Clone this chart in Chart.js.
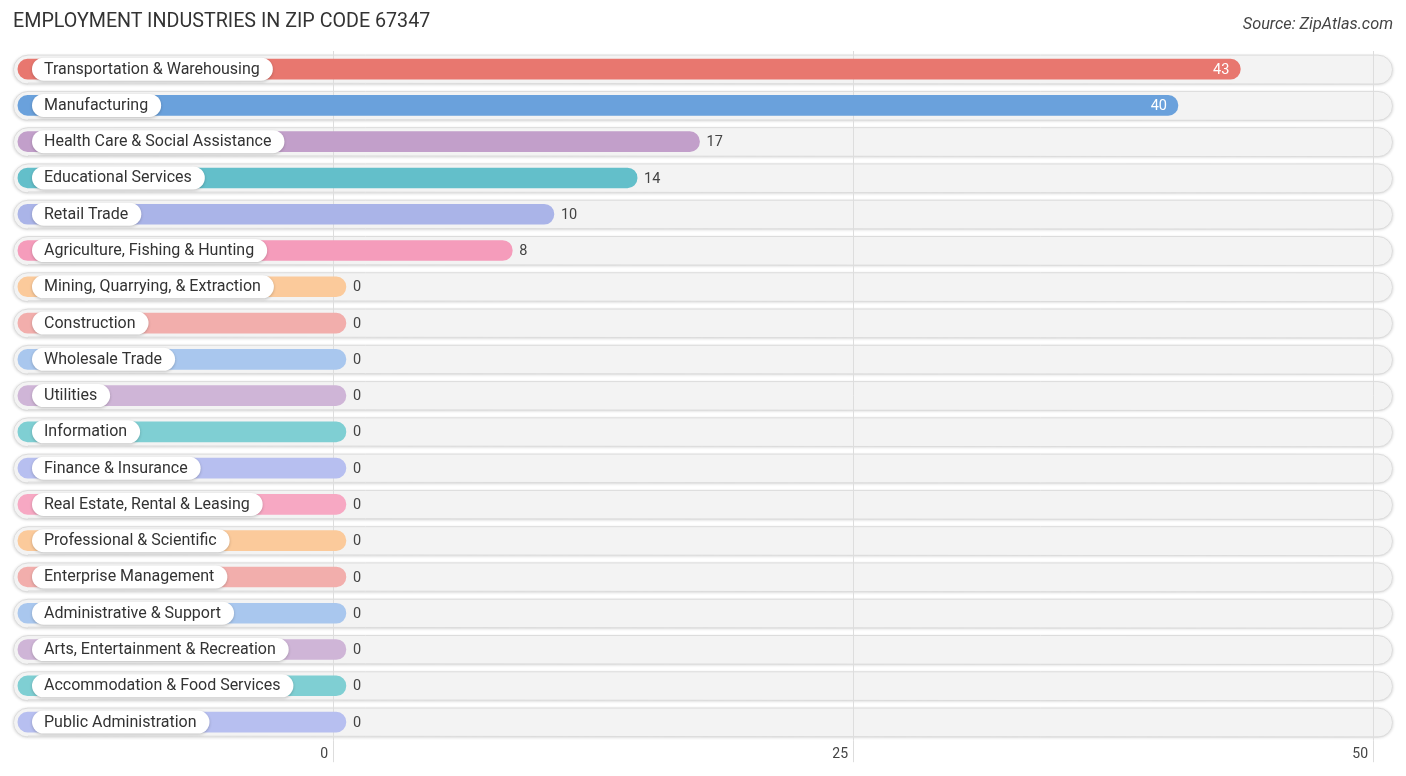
<!DOCTYPE html>
<html>
<head>
<meta charset="utf-8">
<script src="https://cdn.jsdelivr.net/npm/chart.js@4/dist/chart.umd.min.js"></script>
<style>
  body { margin: 0; background: #fff; font-family: Roboto, "Open Sans", sans-serif; }
  #wrap { position: relative; width: 1406px; height: 776px; }
  #title { position: absolute; left: 13px; top: 9px; font-size: 19.7px; color: #333; }
  #source { position: absolute; right: 13px; top: 14px; font-size: 16.3px; color: #444; font-style: italic; }
</style>
</head>
<body>
<div id="wrap">
  <div id="title">EMPLOYMENT INDUSTRIES IN ZIP CODE 67347</div>
  <div id="source">Source: ZipAtlas.com</div>
  <canvas id="barChart" width="1406" height="776"></canvas>
</div>
<script>
// DATA
let categories = ["Transportation & Warehousing", "Manufacturing", "Health Care & Social Assistance",
  "Educational Services", "Retail Trade", "Agriculture, Fishing & Hunting",
  "Mining, Quarrying, & Extraction", "Construction", "Wholesale Trade", "Utilities",
  "Information", "Finance & Insurance", "Real Estate, Rental & Leasing",
  "Professional & Scientific", "Enterprise Management", "Administrative & Support",
  "Arts, Entertainment & Recreation", "Accommodation & Food Services", "Public Administration"];
let values = [43, 40, 17, 14, 10, 8, 0, 0, 0, 0, 0, 0, 0, 0, 0, 0, 0, 0, 0];
let tickValues = [0, 25, 50];
let barColors = ["#e8776f", "#6aa1dc", "#c29fca", "#63bfca", "#aab4e8", "#f59cbb",
  "#fbca9b", "#f2aeac", "#a9c7ee", "#cfb5d7", "#7fcfd3", "#b7bff0", "#f7a8c3",
  "#fbca9b", "#f2aeac", "#a9c7ee", "#cfb5d7", "#7fcfd3", "#b7bff0"];

// bars start left of zero (under the label) and have a rounded cap past the value
let barStart = -15.15;
let capExtra = 0.62;

function roundRect(ctx, x, y, w, h, r) {
  ctx.beginPath();
  ctx.moveTo(x + r, y);
  ctx.lineTo(x + w - r, y);
  ctx.arc(x + w - r, y + r, r, -Math.PI / 2, Math.PI / 2);
  ctx.lineTo(x + r, y + h);
  ctx.arc(x + r, y + r, r, Math.PI / 2, Math.PI * 1.5);
  ctx.closePath();
}

// grey row pills behind everything (grid lines sit on top of them)
let rowBackground = {
  id: 'rowBackground',
  beforeDraw(chart) {
    let ctx = chart.ctx, area = chart.chartArea, y = chart.scales.y, x = chart.scales.x;
    ctx.save();
    categories.forEach((c, i) => {
      let cy = y.getPixelForValue(i);
      let h = 29;
      ctx.save();
      ctx.shadowColor = 'rgba(0,0,0,0.18)';
      ctx.shadowBlur = 3;
      ctx.shadowOffsetY = 1;
      roundRect(ctx, area.left, cy - h / 2, area.right - area.left, h, h / 2);
      ctx.fillStyle = '#f3f3f3';
      ctx.fill();
      ctx.restore();
      roundRect(ctx, area.left + 0.5, cy - h / 2 + 0.5, area.right - area.left - 1, h - 1, h / 2);
      ctx.strokeStyle = '#dcdcdc';
      ctx.lineWidth = 1;
      ctx.stroke();
    });
    // grid lines run a little past the plot, down beside the tick labels
    ctx.strokeStyle = '#dddddd';
    tickValues.forEach(t => {
      let gx = Math.round(x.getPixelForValue(t)) + 0.5;
      ctx.beginPath();
      ctx.moveTo(gx, area.bottom);
      ctx.lineTo(gx, area.bottom + 22);
      ctx.stroke();
    });
    ctx.restore();
  }
};

// category label pills and value labels
let barLabels = {
  id: 'barLabels',
  afterDatasetsDraw(chart) {
    let ctx = chart.ctx, x = chart.scales.x, y = chart.scales.y;
    let maxVal = Math.max(...values);
    ctx.save();
    ctx.font = '16px Roboto, sans-serif';
    ctx.textBaseline = 'middle';
    categories.forEach((c, i) => {
      let cy = y.getPixelForValue(i);
      let tw = ctx.measureText(c).width;
      let px = 32, ph = 23, pw = tw + 25;
      ctx.save();
      ctx.shadowColor = 'rgba(0,0,0,0.22)';
      ctx.shadowBlur = 3;
      ctx.shadowOffsetY = 1;
      roundRect(ctx, px, cy - ph / 2, pw, ph, ph / 2);
      ctx.fillStyle = '#ffffff';
      ctx.fill();
      ctx.restore();
      ctx.fillStyle = '#333';
      ctx.textAlign = 'left';
      ctx.fillText(c, px + 12, cy + 0.5);
    });
    ctx.font = '14.5px Roboto, sans-serif';
    values.forEach((v, i) => {
      let cy = y.getPixelForValue(i);
      let end = x.getPixelForValue(v + capExtra);
      if (v > maxVal * 0.6) {
        ctx.fillStyle = '#ffffff';
        ctx.textAlign = 'right';
        ctx.fillText(String(v), end - 11, cy + 1);
      } else {
        ctx.fillStyle = '#444';
        ctx.textAlign = 'left';
        ctx.fillText(String(v), end + 7, cy + 1);
      }
    });
    ctx.restore();
  }
};

let barChartCtx = document.getElementById('barChart').getContext('2d');
let barChart = new Chart(barChartCtx, {
  type: 'bar',
  data: {
    labels: categories,
    datasets: [{
      label: 'Employment',
      data: values.map(v => [barStart, v + capExtra]),
      backgroundColor: barColors,
      borderWidth: 0,
      borderSkipped: false,
      borderRadius: 10,
      barThickness: 20
    }]
  },
  options: {
    indexAxis: 'y',
    responsive: false,
    animation: false,
    layout: { padding: { left: 13, right: 13, top: 51, bottom: 7 } },
    plugins: { legend: { display: false }, tooltip: { enabled: false } },
    scales: {
      x: {
        min: -15.385,
        max: 50.96,
        afterBuildTicks(scale) { scale.ticks = tickValues.map(v => ({ value: v })); },
        grid: { color: '#dddddd', drawTicks: false },
        border: { display: false },
        ticks: {
          autoSkip: false,
          align: 'end',
          labelOffset: -5,
          padding: 6,
          color: '#444',
          font: { family: 'Roboto', size: 14 }
        }
      },
      y: {
        display: false
      }
    }
  },
  plugins: [rowBackground, barLabels]
});
</script>
</body>
</html>
